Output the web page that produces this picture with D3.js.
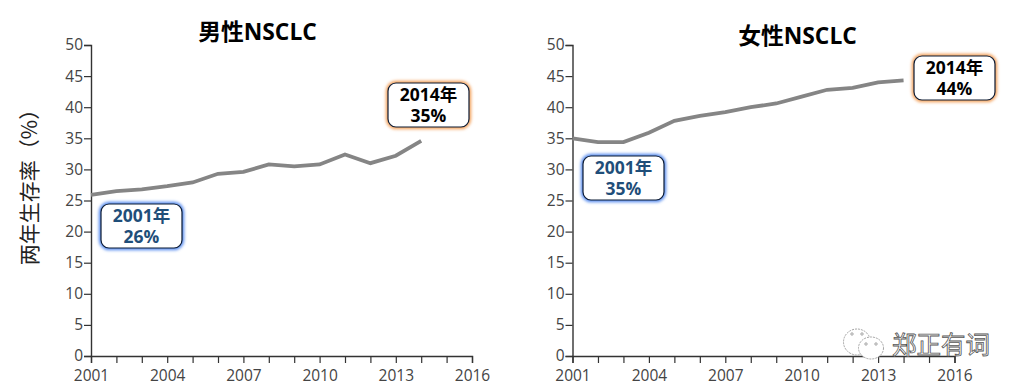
<!DOCTYPE html>
<html><head><meta charset="utf-8">
<script src="https://cdn.jsdelivr.net/npm/d3@7/dist/d3.min.js"></script>
<style>
html,body{margin:0;padding:0;background:#fff;overflow:hidden}
svg{display:block}
text{font-family:"Open Sans","Noto Sans CJK SC",sans-serif}
</style></head><body>
<svg id="c" width="1024" height="391"></svg>
<script>
const years = d3.range(2001, 2015);
const maleValues = [25.9,26.5,26.8,27.3,27.9,29.3,29.6,30.8,30.5,30.8,32.4,31.0,32.2,34.6];
const femaleValues = [35.0,34.4,34.4,35.9,37.8,38.6,39.2,40.0,40.6,41.7,42.8,43.1,44.0,44.3];
const yTicks = d3.range(0, 55, 5);
const xTicks = d3.range(2001, 2017);
const xLabels = [2001,2004,2007,2010,2013,2016];
const titles = ["男性NSCLC","女性NSCLC"];
const yTitle = "两年生存率（%）";
const panels = [
 {title:titles[0], values:maleValues, x0:91, x1:472, tx:257.5, ty:33.5,
  notes:[{l:["2001年","26%"],x:101,y:204,c:"#1f4e79",g:"#5b8ff0"},{l:["2014年","35%"],x:388,y:83,c:"#000",g:"#f4a460"}]},
 {title:titles[1], values:femaleValues, x0:572.5, x1:954.5, tx:797.5, ty:37.5,
  notes:[{l:["2001年","35%"],x:583,y:156,c:"#1f4e79",g:"#5b8ff0"},{l:["2014年","44%"],x:914,y:56,c:"#000",g:"#f4a460"}]}
];
const svg = d3.select("#c");
const defs = svg.append("defs");
defs.append("filter").attr("id","glow").attr("x","-20%").attr("y","-20%").attr("width","140%").attr("height","140%")
  .append("feGaussianBlur").attr("stdDeviation",1.8);
const y = d3.scaleLinear().domain([0,50]).range([356,45]);
const axisColor = "#333";
panels.forEach(p=>{
  const x = d3.scaleLinear().domain([2001,2016]).range([p.x0,p.x1]);
  const g = svg.append("g");
  const gy = g.append("g").attr("transform",`translate(${p.x0},0)`)
    .call(d3.axisLeft(y).tickValues(yTicks).tickSize(7).tickPadding(1).tickFormat(d3.format("d")));
  const gx = g.append("g").attr("transform","translate(0,356)")
    .call(d3.axisBottom(x).tickValues(xTicks).tickSize(7).tickPadding(7)
      .tickFormat(d=>xLabels.includes(d)?String(d):""));
  [gy,gx].forEach(a=>{
    a.select(".domain").attr("stroke",axisColor).attr("stroke-width",1.4);
    a.selectAll(".tick line").attr("stroke",axisColor).attr("stroke-width",1.2);
    a.selectAll("text").attr("fill","#444").attr("font-size",15.5).style("font-family",'"Open Sans",sans-serif');
  });
  g.append("path").datum(p.values)
    .attr("d",d3.line().x((d,i)=>x(years[i])).y(d=>y(d)))
    .attr("fill","none").attr("stroke","#858585").attr("stroke-width",3.8);
  g.append("text").attr("x",p.tx).attr("y",p.ty).attr("text-anchor","middle").attr("dominant-baseline","middle")
    .attr("font-size",22.8).attr("font-weight",700).attr("fill","#000").text(p.title);
  p.notes.forEach(n=>{
    const w=81,h=44;
    g.append("rect").attr("x",n.x).attr("y",n.y).attr("width",w).attr("height",h).attr("rx",8)
      .attr("fill","none").attr("stroke",n.g).attr("stroke-width",4.5).attr("filter","url(#glow)");
    g.append("rect").attr("x",n.x).attr("y",n.y).attr("width",w).attr("height",h).attr("rx",8)
      .attr("fill","#fff").attr("stroke","#0b1a33").attr("stroke-width",1.2);
    const t = g.append("text").attr("text-anchor","middle").attr("font-size",17.5).attr("font-weight",700).attr("fill",n.c);
    n.l.forEach((s,i)=>t.append("tspan").attr("x",n.x+w/2).attr("y",n.y+18+i*21).text(s));
  });
});
svg.append("text").attr("transform","translate(37,182) rotate(-90)").attr("text-anchor","middle")
  .attr("font-size",21).attr("fill","#222").attr("font-weight",400)
  .style("font-family",'"Noto Sans CJK SC",sans-serif').text(yTitle);
// watermark
const wm = svg.append("g").attr("fill","#fff").attr("stroke","#999").attr("stroke-width",0.9);
wm.append("ellipse").attr("cx",857).attr("cy",342).attr("rx",13.5).attr("ry",13).attr("stroke-dasharray","2 1");
wm.append("ellipse").attr("cx",871).attr("cy",348).attr("rx",12.5).attr("ry",11).attr("stroke-dasharray","2 1");
[[852,334],[862,334],[866,344],[876,344]].forEach(([a,b])=>wm.append("circle").attr("cx",a).attr("cy",b).attr("r",1.2));
svg.append("text").attr("x",892).attr("y",354).attr("font-size",24.5).attr("fill","#fff").attr("stroke","#555").attr("stroke-width",0.8)
  .style("font-family",'"Noto Sans CJK SC",sans-serif').text("郑正有词");
</script></body></html>
